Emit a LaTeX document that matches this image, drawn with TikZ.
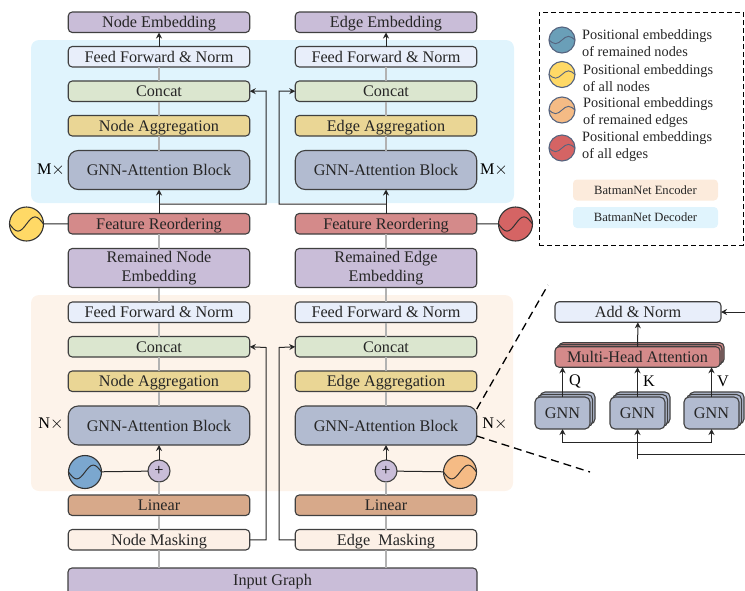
\documentclass[tikz,border=0pt]{standalone}
\usepackage{fontspec}
\setmainfont{Liberation Serif}
\usepackage{tikz}
\usetikzlibrary{positioning,arrows.meta,shadows}

\definecolor{embedcol}{HTML}{C9BDD8}
\definecolor{ffcol}{HTML}{E8EEFA}
\definecolor{concatcol}{HTML}{DBE6CF}
\definecolor{aggcol}{HTML}{EAD695}
\definecolor{gnncol}{HTML}{B2BBD0}
\definecolor{reordercol}{HTML}{D48A8A}
\definecolor{linearcol}{HTML}{D7A98A}
\definecolor{maskcol}{HTML}{FCF0E6}
\definecolor{encodercol}{HTML}{FDF3EA}
\definecolor{decodercol}{HTML}{E0F4FD}
\definecolor{legendenc}{HTML}{FCEBDC}
\definecolor{bluecol}{HTML}{7BA7CF}
\definecolor{tealcol}{HTML}{6A9FB8}
\definecolor{yellowcol}{HTML}{FFD966}
\definecolor{orangecol}{HTML}{F5BB85}
\definecolor{redcol}{HTML}{D56464}
\definecolor{rimcol}{HTML}{56647F}

\begin{document}
\begin{tikzpicture}[
    x=1pt, y=-1pt,
    font=\fontsize{16.2}{19.5}\selectfont,
    blockbox/.style={rectangle, rounded corners=4pt, draw=black!75, line width=1.1pt, inner sep=0pt, outer sep=0pt, minimum width=181.5pt, minimum height=20.5pt, text=black!85, text height=12.5pt, text depth=2pt},
    tallbox/.style={blockbox, minimum height=39pt, align=center, text height=, text depth=},
    gnnblock/.style={tallbox, rounded corners=10pt, fill=gnncol},
    panelbox/.style={rectangle, rounded corners=8pt, inner sep=0pt, outer sep=0pt},
    plusnode/.style={circle, draw=black!75, line width=1.1pt, fill=embedcol, inner sep=0pt, outer sep=0pt, minimum size=22pt},
    sinenode/.style 2 args={circle, draw=black!80, line width=1.1pt, fill=#1, inner sep=0pt, outer sep=0pt, minimum size=#2,
        path picture={\draw[black!80, line width=1pt, x=#2/2, y=#2/2] (-1,0) sin (-.5,-.42) cos (0,0) sin (.5,.42) cos (1,0);}},
    legendsine/.style={circle, draw=rimcol, line width=1.1pt, fill=#1, inner sep=0pt, outer sep=0pt, minimum size=26pt,
        path picture={\draw[rimcol, line width=.9pt, x=13pt, y=13pt] (-1,0) sin (-.5,-.28) cos (0,0) sin (.5,.28) cos (1,0);}},
    legendtext/.style={font=\fontsize{14.3}{17}\selectfont, align=left, text=black!85, inner sep=0pt},
    detailtext/.style={font=\fontsize{12.6}{14}\selectfont, text=black!85},
    smallstack/.style={blockbox, minimum width=55pt, minimum height=32pt, rounded corners=5pt, fill=gnncol, double copy shadow={shadow xshift=2.5pt, shadow yshift=2.5pt}},
    headstack/.style={blockbox, minimum width=165pt, fill=reordercol, double copy shadow={shadow xshift=2pt, shadow yshift=2pt}},
    flowline/.style={draw=black!30, line width=1.2pt},
    arrowline/.style={-{Stealth[length=6pt,width=6pt]}, draw=black!85, line width=1pt},
    plainline/.style={draw=black!85, line width=1pt},
    zoomline/.style={draw=black, line width=1.3pt, dash pattern=on 8pt off 5pt}
    ]
    \useasboundingbox (0,0) rectangle (745,590);

    %Panels
    \node[panelbox, fill=decodercol, minimum width=483pt, minimum height=163pt] (decoder) at (272.5,121.5) {};
    \node[panelbox, fill=encodercol, minimum width=482pt, minimum height=196pt] (encoder) at (272,393) {};

    %Nodes, node column
    \node[blockbox, fill=embedcol] (nemb) at (159,22.25) {Node Embedding};
    \node[blockbox, fill=ffcol] (nff) [below=14pt of nemb] {Feed Forward \& Norm};
    \node[blockbox, fill=concatcol] (nconcat) [below=14pt of nff] {Concat};
    \node[blockbox, fill=aggcol] (nagg) [below=14pt of nconcat] {Node Aggregation};
    \node[gnnblock] (ngnn) [below=14.5pt of nagg] {GNN-Attention Block};
    \node[blockbox, fill=reordercol] (nreorder) [below=24pt of ngnn] {Feature Reordering};
    \node[tallbox, fill=embedcol] (nremain) [below=14.5pt of nreorder] {Remained Node\\Embedding};
    \node[blockbox, fill=ffcol] (nffl) [below=14.5pt of nremain] {Feed Forward \& Norm};
    \node[blockbox, fill=concatcol] (nconcatl) [below=14pt of nffl] {Concat};
    \node[blockbox, fill=aggcol] (naggl) [below=14pt of nconcatl] {Node Aggregation};
    \node[gnnblock] (ngnnl) [below=14.5pt of naggl] {GNN-Attention Block};
    \node[plusnode] (nplus) [below=15pt of ngnnl] {+};
    \node[blockbox, fill=linearcol] (nlinear) [below=13pt of nplus] {Linear};
    \node[blockbox, fill=maskcol] (nmask) [below=14pt of nlinear] {Node Masking};

    %Nodes, edge column
    \node[blockbox, fill=embedcol] (eemb) at (386,22.25) {Edge Embedding};
    \node[blockbox, fill=ffcol] (eff) [below=14pt of eemb] {Feed Forward \& Norm};
    \node[blockbox, fill=concatcol] (econcat) [below=14pt of eff] {Concat};
    \node[blockbox, fill=aggcol] (eagg) [below=14pt of econcat] {Edge Aggregation};
    \node[gnnblock] (egnn) [below=14.5pt of eagg] {GNN-Attention Block};
    \node[blockbox, fill=reordercol] (ereorder) [below=24pt of egnn] {Feature Reordering};
    \node[tallbox, fill=embedcol] (eremain) [below=14.5pt of ereorder] {Remained Edge\\Embedding};
    \node[blockbox, fill=ffcol] (effl) [below=14.5pt of eremain] {Feed Forward \& Norm};
    \node[blockbox, fill=concatcol] (econcatl) [below=14pt of effl] {Concat};
    \node[blockbox, fill=aggcol] (eaggl) [below=14pt of econcatl] {Edge Aggregation};
    \node[gnnblock] (egnnl) [below=14.5pt of eaggl] {GNN-Attention Block};
    \node[plusnode] (eplus) [below=15pt of egnnl] {+};
    \node[blockbox, fill=linearcol] (elinear) [below=13pt of eplus] {Linear};
    \node[blockbox, fill=maskcol] (emask) [below=14pt of elinear] {Edge\ \ Masking};

    \node[blockbox, fill=embedcol, minimum width=409pt, minimum height=28pt, text depth=5pt] (input) at (272.5,582) {Input Graph};

    %Nodes, positional embeddings and repeat marks
    \node[sinenode={yellowcol}{34pt}] (nallpos) at (26.5,224) {};
    \node[sinenode={redcol}{34pt}] (eallpos) at (515.5,224) {};
    \node[sinenode={bluecol}{33pt}] (nrempos) at (85,472) {};
    \node[sinenode={orangecol}{33pt}] (erempos) at (460,472) {};
    \node (mleft) at (51,170) {M$\times$};
    \node (mright) at (494,170) {M$\times$};
    \node (nleft) at (51,424) {N$\times$};
    \node (nright) at (495,424) {N$\times$};

    %Nodes, legend
    \node[draw=black, line width=.9pt, dash pattern=on 5pt off 3pt, inner sep=0pt, minimum width=204pt, minimum height=233pt] (legend) at (641,128.5) {};
    \node[legendsine=tealcol] (lnrem) at (562,40) {};
    \node[legendsine=yellowcol] (lnall) at (562,74.5) {};
    \node[legendsine=orangecol] (lerem) at (562,110) {};
    \node[legendsine=redcol] (leall) at (562,148) {};
    \node[legendtext, anchor=west] (tnrem) at (582,43) {Positional embeddings\\of remained nodes};
    \node[legendtext, anchor=west] (tnall) at (583,78.5) {Positional embeddings\\of all nodes};
    \node[legendtext, anchor=west] (terem) at (583,112.5) {Positional embeddings\\of remained edges};
    \node[legendtext, anchor=west] (teall) at (582,146.5) {Positional embeddings\\of all edges};
    \node[panelbox, rounded corners=4pt, fill=legendenc, minimum width=145pt, minimum height=21pt, detailtext] (lenc) at (645.5,190) {BatmanNet Encoder};
    \node[panelbox, rounded corners=4pt, fill=decodercol, minimum width=145pt, minimum height=21pt, detailtext] (ldec) at (645.5,217.5) {BatmanNet Decoder};

    %Nodes, attention detail
    \node[blockbox, fill=ffcol, minimum width=166pt] (addnorm) at (638,312) {Add \& Norm};
    \node[headstack] (mha) at (637.5,357) {Multi-Head Attention};
    \node[smallstack] (gnnq) at (562.5,413) {GNN};
    \node[smallstack] (gnnk) at (637.5,413) {GNN};
    \node[smallstack] (gnnv) at (711.5,413) {GNN};
    \node (labq) at (575,381) {Q};
    \node (labk) at (649,381) {K};
    \node (labv) at (723,381) {V};
    \coordinate (addin) at (745,312);
    \coordinate (fork) at (637.5,442);
    \coordinate (branch) at (637.5,454);
    \coordinate (forkend) at (637.5,459);
    \coordinate (branchend) at (745,454);
    \coordinate (zoomtop) at (548,285);
    \coordinate (zoombot) at (590,472);

    %Lines, main flow
    \draw[flowline] (nff) -- (nconcat);
    \draw[flowline] (nconcat) -- (nagg);
    \draw[flowline] (nagg) -- (ngnn);
    \draw[flowline] (nremain) -- (nreorder);
    \draw[flowline] (nremain) -- (nffl);
    \draw[flowline] (nffl) -- (nconcatl);
    \draw[flowline] (nconcatl) -- (naggl);
    \draw[flowline] (naggl) -- (ngnnl);
    \draw[flowline] (nlinear) -- (nplus);
    \draw[flowline] (nmask) -- (nlinear);
    \draw[flowline] (nmask.south) -- (nmask.south |- input.north);
    \draw[flowline] (eff) -- (econcat);
    \draw[flowline] (econcat) -- (eagg);
    \draw[flowline] (eagg) -- (egnn);
    \draw[flowline] (eremain) -- (ereorder);
    \draw[flowline] (eremain) -- (effl);
    \draw[flowline] (effl) -- (econcatl);
    \draw[flowline] (econcatl) -- (eaggl);
    \draw[flowline] (eaggl) -- (egnnl);
    \draw[flowline] (elinear) -- (eplus);
    \draw[flowline] (emask) -- (elinear);
    \draw[flowline] (emask.south) -- (emask.south |- input.north);

    %Lines, arrows
    \draw[arrowline] (nff) -- (nemb);
    \draw[arrowline] (eff) -- (eemb);
    \draw[arrowline] (nreorder) -- (ngnn);
    \draw[arrowline] (ereorder) -- (egnn);
    \draw[arrowline] (nplus) -- (ngnnl);
    \draw[arrowline] (eplus) -- (egnnl);
    \draw[arrowline] (nreorder.north |- 0,204) -| (266,91) -- (nconcat.east);
    \draw[arrowline] (ereorder.north |- 0,204) -| (279,91) -- (econcat.west);
    \draw[arrowline] (nmask.east) -| (266,347.5) -- (nconcatl.east);
    \draw[arrowline] (emask.west) -| (279,347.5) -- (econcatl.west);
    \draw[plainline] (nallpos) -- (nreorder);
    \draw[plainline] (eallpos) -- (ereorder);
    \draw[plainline] (nrempos) -- (nplus);
    \draw[plainline] (erempos) -- (eplus);

    %Lines, attention detail
    \draw[zoomline] (egnnl.north east) ++(0,3) -- (zoomtop);
    \draw[zoomline] (egnnl.south east) ++(0,-9) -- (zoombot);
    \draw[arrowline] (addin) -- (addnorm.east);
    \draw[arrowline] (mha) -- (addnorm);
    \draw[arrowline] (gnnq) -- (mha.south -| gnnq);
    \draw[arrowline] (gnnk) -- (mha.south -| gnnk);
    \draw[arrowline] (gnnv) -- (mha.south -| gnnv);
    \draw[arrowline] (forkend) -- (gnnk);
    \draw[arrowline] (fork) -| (gnnq);
    \draw[arrowline] (fork) -| (gnnv);
    \draw[plainline] (branch) -- (branchend);
\end{tikzpicture}
\end{document}
